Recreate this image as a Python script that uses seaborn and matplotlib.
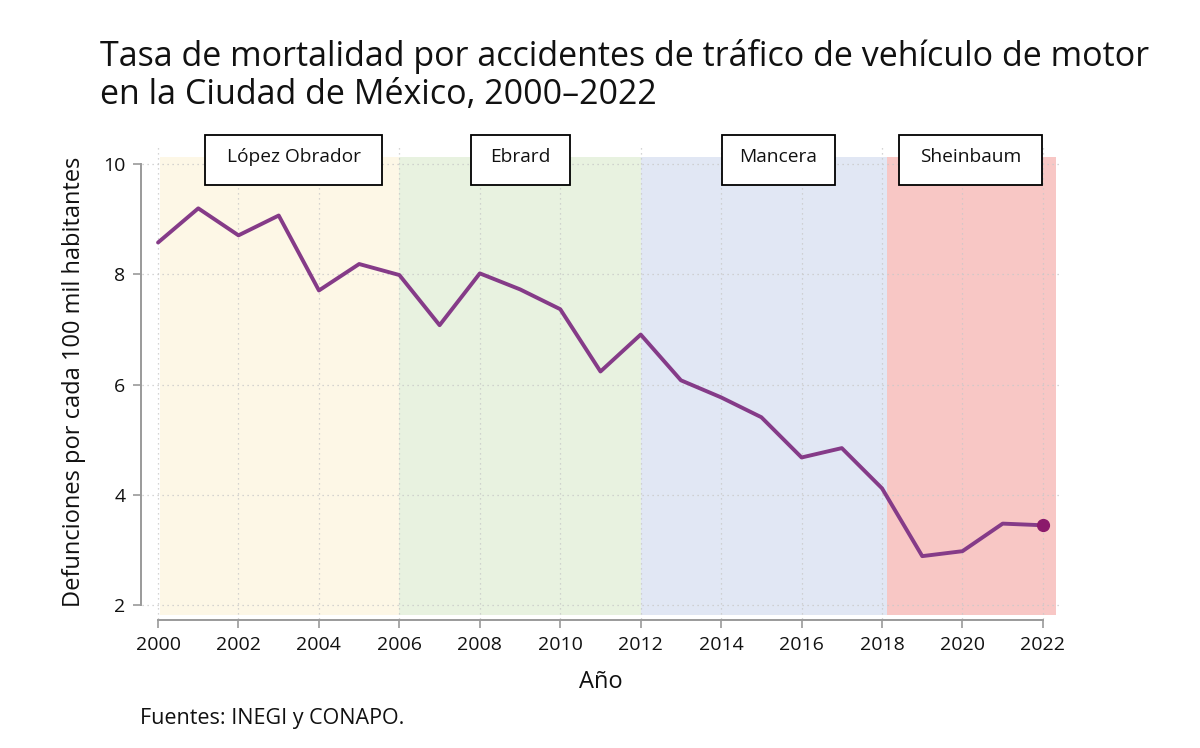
import numpy as np
import pandas as pd
import matplotlib
matplotlib.use("Agg")
import matplotlib.pyplot as plt
import seaborn as sns
from matplotlib.patches import Rectangle

years = list(range(2000, 2023))
tasa = [8.58, 9.20, 8.71, 9.07, 7.71, 8.19, 7.99, 7.08, 8.02, 7.73, 7.37, 6.24,
        6.91, 6.08, 5.77, 5.41, 4.68, 4.85, 4.12, 2.89, 2.98, 3.48, 3.45]

periodos = ["López Obrador", "Ebrard", "Mancera", "Sheinbaum"]
periodo_inicio = [2000.05, 2006.0, 2012.0, 2018.12]
periodo_fin = [2006.0, 2012.0, 2018.12, 2022.32]
periodo_color = ["#fdf7e6", "#e8f2e0", "#e1e7f4", "#f8c7c5"]

df = pd.DataFrame({"anio": years, "tasa": tasa})

sns.set_theme(style="white")
plt.rcParams["font.family"] = ["Open Sans", "DejaVu Sans"]

fig = plt.figure(figsize=(12, 7.48), dpi=100)
ax = fig.add_axes([0.1183, 0.1725, 0.7642, 0.6337])

# shaded administrations
for nombre, x0, x1, c in zip(periodos, periodo_inicio, periodo_fin, periodo_color):
    ax.fill_between([x0, x1], 1.82, 10.13, color=c, lw=0, zorder=0)

# dotted grid
for x in range(2000, 2023, 2):
    ax.axvline(x, color="#c8c8c8", lw=0.9, ls=(0, (1, 3)), zorder=1)
for y in range(2, 11, 2):
    ax.axhline(y, color="#c8c8c8", lw=0.9, ls=(0, (1, 3)), zorder=1)

sns.lineplot(data=df, x="anio", y="tasa", color="#853b88", lw=2.8, ax=ax, zorder=3)
ax.plot(years[-1], tasa[-1], "o", color="#8b1a6b", ms=8.5, zorder=4)

# labels for each administration
box_w = [4.40, 2.46, 2.81, 3.55]
box_cx = [2003.37, 2009.01, 2015.42, 2020.20]
for nombre, cx, w in zip(periodos, box_cx, box_w):
    ax.add_patch(Rectangle((cx - w / 2, 9.62), w, 0.91, facecolor="white",
                           edgecolor="black", lw=1.3, clip_on=False, zorder=5))
    ax.text(cx, 10.14, nombre, ha="center", va="center", fontsize=13.8,
            color="#111111", zorder=6, clip_on=False)

ax.set_xlim(1999.6, 2022.4)
ax.set_ylim(1.75, 10.35)
ax.set_xticks(range(2000, 2023, 2))
ax.set_yticks(range(2, 11, 2))
for s in ["top", "right"]:
    ax.spines[s].set_visible(False)
ax.spines["left"].set_bounds(2, 10)
ax.spines["bottom"].set_bounds(2000, 2022)
ax.spines["left"].set_position(("outward", 1))
ax.spines["bottom"].set_position(("outward", 1))
for s in ["left", "bottom"]:
    ax.spines[s].set_color("#9a9a9a")
    ax.spines[s].set_linewidth(1.4)
ax.tick_params(axis="both", which="major", length=6, width=1.2, color="#9a9a9a",
               labelsize=14, labelcolor="#111111", pad=5, direction="out",
               bottom=True, left=True)

ax.set_xlabel("Año", fontsize=17, color="#111111", labelpad=12)
ax.set_ylabel("Defunciones por cada 100 mil habitantes", fontsize=17,
              color="#111111", labelpad=12)

fig.text(0.083, 0.948, "Tasa de mortalidad por accidentes de tráfico de vehículo de motor\n"
         "en la Ciudad de México, 2000–2022", fontsize=24.5, color="#111111",
         ha="left", va="top", linespacing=1.15)
fig.text(0.1167, 0.04, "Fuentes: INEGI y CONAPO.", fontsize=15.5, color="#111111",
         ha="left", va="center")

fig.savefig("out.png", dpi=100, facecolor="white")
